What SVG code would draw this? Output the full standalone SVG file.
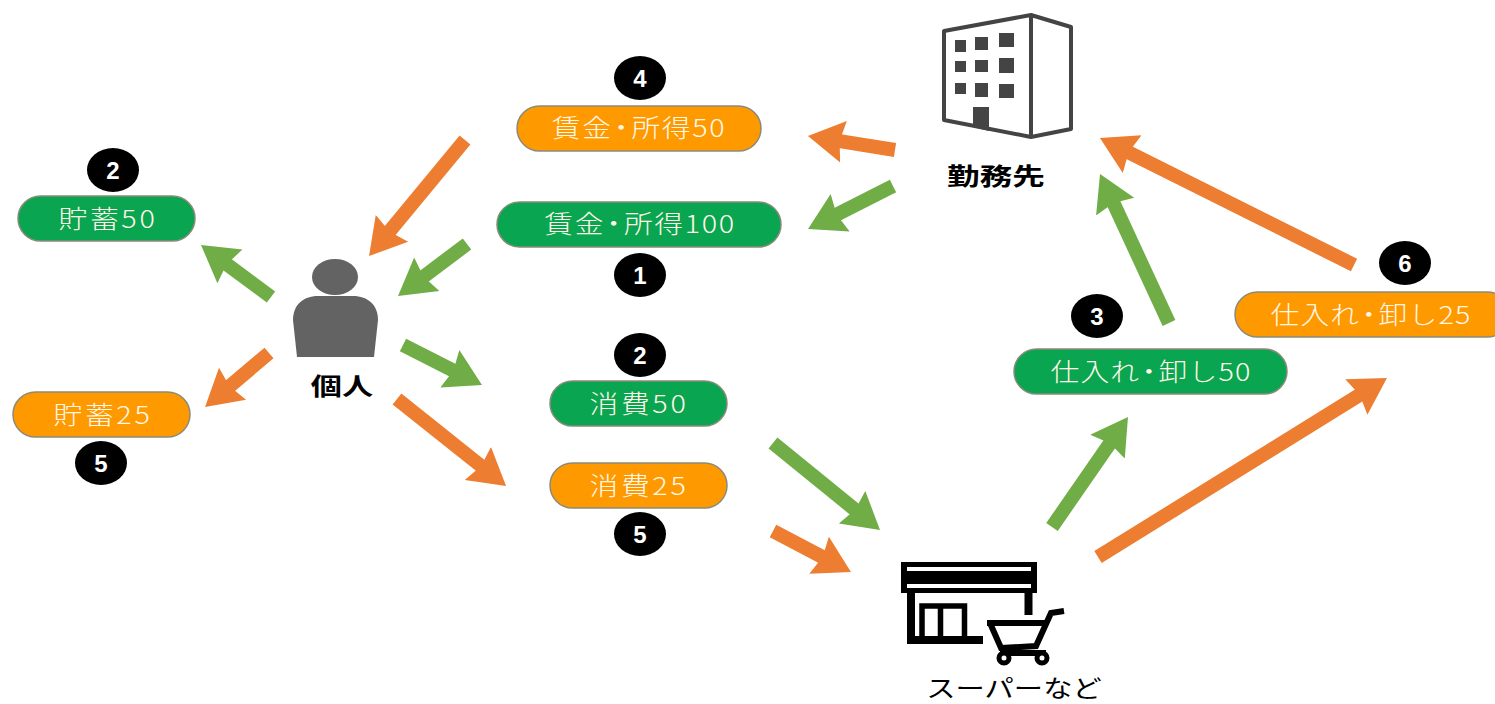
<svg xmlns="http://www.w3.org/2000/svg" width="1495" height="704" viewBox="0 0 1495 704">
<style>
text{font-family:"Noto Sans CJK JP","Noto Sans",sans-serif;text-anchor:middle}
.pill{stroke:#8a8a7a;stroke-width:1.5}
.o{fill:#ff9900}
.g{fill:#0aa550}
.t{fill:#fff8e8;font-size:25px;font-weight:300;letter-spacing:1.4px}
.w{letter-spacing:2.3px}
.s{letter-spacing:1px}
.b{fill:#000}
.n{fill:#fff;font-size:24px;font-weight:700;font-family:"Liberation Sans",sans-serif}
.l{fill:#000;font-size:24px}
.ag{stroke:#70ad47;stroke-width:14;fill:none;marker-end:url(#mg)}
.ao{stroke:#ed7d31;stroke-width:14;fill:none;marker-end:url(#mo)}
</style>
<defs>
<marker id="mg" markerUnits="userSpaceOnUse" markerWidth="38" markerHeight="44" refX="7" refY="22" orient="auto"><path d="M0,1 L36,22 L0,43 L4,22 Z" fill="#70ad47"/></marker>
<marker id="mo" markerUnits="userSpaceOnUse" markerWidth="38" markerHeight="44" refX="7" refY="22" orient="auto"><path d="M0,1 L36,22 L0,43 L4,22 Z" fill="#ed7d31"/></marker>
</defs>
<rect width="1495" height="704" fill="#fff"/>
<g id="connectors">
<line class="ag" x1="893" y1="186" x2="833.9" y2="215.9"/>
<line class="ag" x1="467" y1="244" x2="421.2" y2="278.5"/>
<line class="ag" x1="271" y1="297" x2="224.3" y2="262.3"/>
<line class="ag" x1="403" y1="345" x2="456.1" y2="371.9"/>
<line class="ag" x1="773" y1="443" x2="857.5" y2="511.7"/>
<line class="ag" x1="1052" y1="527" x2="1111.5" y2="440.9"/>
<line class="ag" x1="1169" y1="323" x2="1112.2" y2="200.3"/>
<line class="ao" x1="895" y1="150" x2="836.6" y2="140.6"/>
<line class="ao" x1="465" y1="140" x2="387.5" y2="233.7"/>
<line class="ao" x1="269" y1="353" x2="227.2" y2="388.3"/>
<line class="ao" x1="397" y1="399" x2="483.4" y2="467.9"/>
<line class="ao" x1="773" y1="531" x2="825.3" y2="558.5"/>
<line class="ao" x1="1098" y1="557" x2="1362.3" y2="393.3"/>
<line class="ao" x1="1354" y1="265" x2="1125.9" y2="151"/>
</g>
<g id="person">
<ellipse cx="335" cy="277" rx="23" ry="18" fill="#636363"/>
<path d="M297,357 L293,320 C293,305 303,296 318,296 L353,296 C368,296 378,305 378,320 L374,357 Z" fill="#636363"/>
<text class="l" transform="translate(342,395) scale(1.3,1)" style="font-weight:700">個人</text>
</g>
<g id="office">
<path d="M944,31 L1031,15 L1071,27 L1071,129 L1031,137 L944,120 Z M1031,15 L1031,137" fill="#fff" stroke="#444" stroke-width="4" stroke-linejoin="round"/>
<g fill="#444">
<rect x="955" y="40" width="11" height="12"/><rect x="975" y="37" width="13" height="13"/><rect x="999" y="33" width="15" height="14"/>
<rect x="955" y="61" width="11" height="11"/><rect x="975" y="60" width="13" height="12"/><rect x="999" y="58" width="15" height="15"/>
<rect x="955" y="83" width="11" height="11"/><rect x="975" y="83" width="13" height="14"/><rect x="999" y="84" width="15" height="14"/>
<path d="M973,107 L989,107 L989,131 L973,127 Z"/>
</g>
<text class="l" transform="translate(996,185) scale(1.36,1)" style="font-weight:700">勤務先</text>
</g>
<g id="store">
<rect x="901" y="562" width="136" height="31" fill="#000"/>
<rect x="907" y="567" width="124" height="4" fill="#fff"/>
<rect x="907" y="584" width="124" height="4" fill="#fff"/>
<path d="M911,593 L911,640 L983,640 M1028.500,593 L1028.500,615" fill="none" stroke="#000" stroke-width="8"/>
<path d="M922,638 L922,606 L964.500,606 L964.500,638 M940.500,606 L940.500,638" fill="none" stroke="#000" stroke-width="5.500"/>
<path d="M987,623 L1046,623 M990,623 L1001,648 L1036,646 L1051,613 L1064,611 M1000,653 L1046,653" fill="none" stroke="#000" stroke-width="6"/>
<circle cx="1004" cy="658" r="5" fill="#fff" stroke="#000" stroke-width="5"/>
<circle cx="1042" cy="658" r="5" fill="#fff" stroke="#000" stroke-width="5"/>
<text class="l" transform="translate(1014,697) scale(1.22,1)">スーパーなど</text>
</g>
<g id="wage50">
<rect class="pill o" x="517" y="106" width="244" height="45" rx="22.500"/>
<text class="t" dx="0 0 -5 -5" transform="translate(639,137) scale(1.15,1)">賃金・所得50</text>
<ellipse class="b" cx="640" cy="78" rx="26" ry="22"/><text class="n" x="640" y="87">4</text>
</g>
<g id="wage100">
<rect class="pill g" x="497" y="202" width="284" height="45" rx="22.500"/>
<text class="t" dx="0 0 -5 -5" transform="translate(640,233) scale(1.15,1)">賃金・所得100</text>
<ellipse class="b" cx="640" cy="275" rx="26" ry="22"/><text class="n" x="640" y="284">1</text>
</g>
<g id="savings50">
<rect class="pill g" x="18" y="196" width="177" height="45" rx="22.500"/>
<text class="t w" transform="translate(108,228) scale(1.15,1)">貯蓄50</text>
<ellipse class="b" cx="113" cy="170" rx="26" ry="22"/><text class="n" x="113" y="179">2</text>
</g>
<g id="savings25">
<rect class="pill o" x="13" y="392" width="177" height="45" rx="22.500"/>
<text class="t w" transform="translate(103,424) scale(1.15,1)">貯蓄25</text>
<ellipse class="b" cx="101" cy="463" rx="26" ry="22"/><text class="n" x="101" y="472">5</text>
</g>
<g id="consume50">
<rect class="pill g" x="550" y="381" width="177" height="45" rx="22.500"/>
<text class="t w" transform="translate(639,413) scale(1.15,1)">消費50</text>
<ellipse class="b" cx="640" cy="355" rx="26" ry="22"/><text class="n" x="640" y="364">2</text>
</g>
<g id="consume25">
<rect class="pill o" x="550" y="463" width="177" height="45" rx="22.500"/>
<text class="t w" transform="translate(639,495) scale(1.15,1)">消費25</text>
<ellipse class="b" cx="640" cy="534" rx="26" ry="22"/><text class="n" x="640" y="543">5</text>
</g>
<g id="wholesale50">
<rect class="pill g" x="1014" y="349" width="273" height="45" rx="22.500"/>
<text class="t s" dx="0 0 0 -5 -5" transform="translate(1151,381) scale(1.15,1)">仕入れ・卸し50</text>
<ellipse class="b" cx="1097" cy="316" rx="26" ry="22"/><text class="n" x="1097" y="325">3</text>
</g>
<g id="wholesale25">
<rect class="pill o" x="1235" y="292" width="275" height="45" rx="22.500"/>
<text class="t s" dx="0 0 0 -5 -5" transform="translate(1371,324) scale(1.15,1)">仕入れ・卸し25</text>
<ellipse class="b" cx="1405" cy="263" rx="26" ry="22"/><text class="n" x="1405" y="272">6</text>
</g>
</svg>
